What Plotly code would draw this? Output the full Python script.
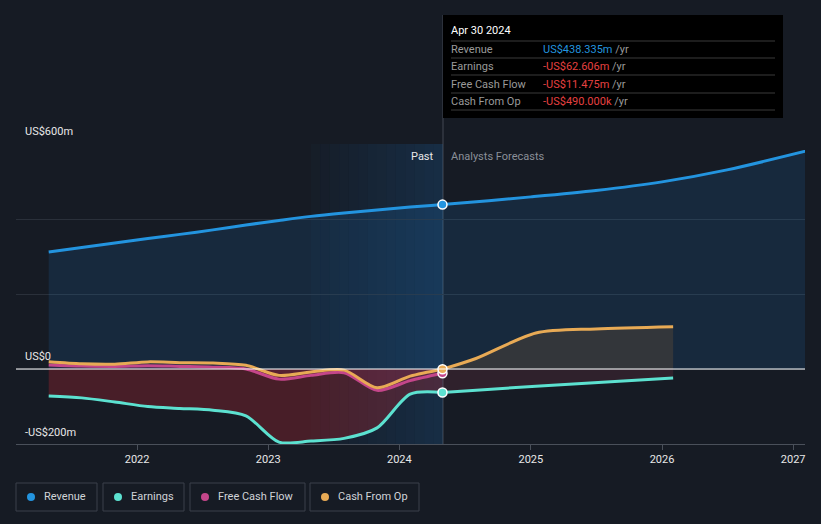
import plotly.graph_objects as go

# ---------------- data ----------------
past_dates = ["2021-04-30", "2021-07-31", "2021-10-31", "2022-01-31", "2022-04-30",
              "2022-07-31", "2022-10-31", "2023-01-31", "2023-04-30", "2023-07-31",
              "2023-10-31", "2024-01-31", "2024-04-30"]
revenue_past = [312, 324, 336, 348, 359, 371, 384, 396, 407, 416, 424, 432, 438.335]
earnings_past = [-72, -77, -88, -100, -105, -110, -125, -195, -192, -185, -157, -67, -62.606]
fcf_past = [11, 8, 7, 9, 7, 5, 0, -27, -17, -10, -57, -31, -11.475]
cfo_past = [19.5, 14, 13, 19, 17, 16, 10, -17, -8, -3, -50, -19, -0.49]

rev_fc_dates = ["2024-04-30", "2025-01-01", "2025-07-01", "2026-01-01", "2026-07-01", "2027-03-15"]
revenue_fc = [438.335, 459, 476, 499, 531, 590]
earn_fc_dates = ["2024-04-30", "2025-01-15", "2026-02-01"]
earnings_fc = [-62.606, -46, -24]
cfo_fc_dates = ["2024-04-30", "2024-08-01", "2025-01-15", "2025-07-01", "2026-02-01"]
cfo_fc = [-0.49, 28, 96, 107, 113]

now_date = "2024-04-30"
x_ticks = ["2022-01-01", "2023-01-01", "2024-01-01", "2025-01-01", "2026-01-01", "2027-01-01"]
x_tick_labels = ["2022", "2023", "2024", "2025", "2026", "2027"]
y_labels = ["US$600m", "US$0", "-US$200m"]

tooltip_title = "Apr 30 2024"
tooltip_rows = ["Revenue", "Earnings", "Free Cash Flow", "Cash From Op"]
tooltip_vals = ["US$438.335m", "-US$62.606m", "-US$11.475m", "-US$490.000k"]
legend_names = ["Revenue", "Earnings", "Free Cash Flow", "Cash From Op"]

# ---------------- style ----------------
BG = "#161b24"
C_REV = "#2394df"
C_EARN = "#5ce1d0"
C_FCF = "#c4468a"
C_CFO = "#e8aa55"
C_NEG = "#e64141"
FONT = "Roboto"

# plot area in pixels
L, R, T, B = 16, 805, 144, 444
W, H = 821, 524


def px(x):
    return (x - L) / (R - L)


def py(y):
    return (B - y) / (B - T)


fig = go.Figure()

spline = dict(shape="spline", smoothing=0.8)

# fills
fig.add_trace(go.Scatter(x=past_dates + rev_fc_dates[1:], y=revenue_past + revenue_fc[1:],
                         mode="lines", line=dict(width=0, **spline), fill="tozeroy",
                         fillcolor="rgba(33,150,243,0.12)", hoverinfo="skip"))
fig.add_trace(go.Scatter(x=past_dates, y=earnings_past, mode="lines",
                         line=dict(width=0, **spline), fill="tozeroy",
                         fillcolor="rgba(190,40,50,0.30)", hoverinfo="skip"))
fig.add_trace(go.Scatter(x=past_dates, y=fcf_past, mode="lines",
                         line=dict(width=0, **spline), fill="tozeroy",
                         fillcolor="rgba(200,60,120,0.12)", hoverinfo="skip"))
fig.add_trace(go.Scatter(x=earn_fc_dates, y=earnings_fc, mode="lines",
                         line=dict(width=0, **spline), fill="tozeroy",
                         fillcolor="rgba(150,60,80,0.20)", hoverinfo="skip"))
fig.add_trace(go.Scatter(x=cfo_fc_dates, y=cfo_fc, mode="lines",
                         line=dict(width=0, **spline), fill="tozeroy",
                         fillcolor="rgba(111,85,54,0.32)", hoverinfo="skip"))

# lines
fig.add_trace(go.Scatter(x=past_dates + rev_fc_dates[1:], y=revenue_past + revenue_fc[1:],
                         mode="lines", line=dict(color=C_REV, width=3, **spline)))
fig.add_trace(go.Scatter(x=past_dates, y=earnings_past, mode="lines",
                         line=dict(color=C_EARN, width=3, **spline)))
fig.add_trace(go.Scatter(x=earn_fc_dates, y=earnings_fc, mode="lines",
                         line=dict(color=C_EARN, width=3, **spline)))
fig.add_trace(go.Scatter(x=past_dates, y=fcf_past, mode="lines",
                         line=dict(color=C_FCF, width=3, **spline)))
fig.add_trace(go.Scatter(x=past_dates, y=cfo_past, mode="lines",
                         line=dict(color=C_CFO, width=3, **spline)))
fig.add_trace(go.Scatter(x=cfo_fc_dates, y=cfo_fc, mode="lines",
                         line=dict(color=C_CFO, width=3, **spline)))

# markers at "now"
for vals, col in [(revenue_past, C_REV), (earnings_past, C_EARN), (fcf_past, C_FCF), (cfo_past, C_CFO)]:
    fig.add_trace(go.Scatter(x=[now_date], y=[vals[-1]], mode="markers",
                             marker=dict(size=9, color=col, line=dict(color="white", width=1.5))))

shapes = []
# past band gradient
n = 14
bx0, bx1 = px(311), px(443)
for i in range(n):
    a = 0.03 + 0.17 * (i / (n - 1))
    shapes.append(dict(type="rect", xref="paper", yref="paper",
                       x0=bx0 + (bx1 - bx0) * i / n, x1=bx0 + (bx1 - bx0) * (i + 1) / n,
                       y0=0, y1=1, line=dict(width=0),
                       fillcolor=f"rgba(30,120,200,{a:.3f})", layer="below"))
# zero line
shapes.append(dict(type="line", xref="paper", yref="y", x0=0, x1=1, y0=0, y1=0,
                   line=dict(color="white", width=1.2), layer="above"))
# now vertical line
shapes.append(dict(type="line", xref="paper", yref="paper", x0=px(443), x1=px(443),
                   y0=0, y1=py(15), line=dict(color="rgba(120,130,145,0.45)", width=1), layer="below"))
# tooltip box
shapes.append(dict(type="rect", xref="paper", yref="paper", x0=px(443), x1=px(783),
                   y0=py(118), y1=py(15), fillcolor="#000000", line=dict(width=0), layer="above"))
for yy in [41, 58, 75, 93, 110]:
    shapes.append(dict(type="line", xref="paper", yref="paper", x0=px(451), x1=px(775),
                       y0=py(yy), y1=py(yy), line=dict(color="#3a3a3a", width=1), layer="above"))

annotations = []
annotations.append(dict(xref="paper", yref="paper", x=px(449), y=py(31), text=tooltip_title,
                        showarrow=False, xanchor="left", yanchor="middle",
                        font=dict(family=FONT, size=11, color="white")))
row_y = [49, 66, 84, 101]
for i, (lab, val) in enumerate(zip(tooltip_rows, tooltip_vals)):
    col = C_REV if not val.startswith("-") else C_NEG
    annotations.append(dict(xref="paper", yref="paper", x=px(449), y=py(row_y[i]), text=lab,
                            showarrow=False, xanchor="left", yanchor="middle",
                            font=dict(family=FONT, size=11, color="#9a9a9a")))
    annotations.append(dict(xref="paper", yref="paper", x=px(541), y=py(row_y[i]),
                            text=f"<span style='color:{col}'>{val}</span> /yr",
                            showarrow=False, xanchor="left", yanchor="middle",
                            font=dict(family=FONT, size=11, color="#9a9a9a")))

# past / forecast labels
annotations.append(dict(xref="paper", yref="paper", x=px(436), y=py(156), text="Past",
                        showarrow=False, xanchor="right", yanchor="middle",
                        font=dict(family=FONT, size=11, color="#e8e8e8")))
annotations.append(dict(xref="paper", yref="paper", x=px(449), y=py(156), text="Analysts Forecasts",
                        showarrow=False, xanchor="left", yanchor="middle",
                        font=dict(family=FONT, size=11, color="#8a8f98")))

# y labels
for lab, yy in zip(y_labels, [131, 356, 432]):
    annotations.append(dict(xref="paper", yref="paper", x=px(23), y=py(yy), text=lab,
                            showarrow=False, xanchor="left", yanchor="middle",
                            font=dict(family=FONT, size=11, color="#e8e8e8")))

# custom legend
leg_boxes = [(16, 97), (103, 184), (190, 305), (310, 419)]
leg_cols = [C_REV, C_EARN, C_FCF, C_CFO]
for (x0, x1), name, col in zip(leg_boxes, legend_names, leg_cols):
    shapes.append(dict(type="rect", xref="paper", yref="paper", x0=px(x0), x1=px(x1),
                       y0=py(511), y1=py(483), line=dict(color="#3a404b", width=1),
                       fillcolor="rgba(0,0,0,0)", layer="above"))
    shapes.append(dict(type="circle", xref="paper", yref="paper", xsizemode="pixel", ysizemode="pixel",
                       xanchor=px(x0 + 15), yanchor=py(497), x0=-4, x1=4, y0=-4, y1=4,
                       fillcolor=col, line=dict(width=0), layer="above"))
    annotations.append(dict(xref="paper", yref="paper", x=px(x0 + 26), y=py(496), text=name,
                            showarrow=False, xanchor="left", yanchor="middle",
                            font=dict(family=FONT, size=11, color="#d0d3d8")))

fig.update_layout(
    width=W, height=H,
    margin=dict(l=L, r=W - R, t=T, b=H - B),
    paper_bgcolor=BG, plot_bgcolor=BG,
    showlegend=False,
    shapes=shapes, annotations=annotations,
    xaxis=dict(type="date", range=["2021-01-29", "2027-02-03"], tickvals=x_ticks,
               ticktext=x_tick_labels, showgrid=False, zeroline=False,
               showline=True, linecolor="#4a505a", linewidth=1,
               ticks="outside", ticklen=5, tickcolor="#4a505a", fixedrange=True,
               tickfont=dict(family=FONT, size=11, color="#e8e8e8")),
    yaxis=dict(range=[-200, 600], tickvals=[0, 200, 400, 600], showticklabels=False,
               showgrid=True, gridcolor="#2a303a", gridwidth=1, zeroline=False,
               fixedrange=True),
    hovermode=False,
)

fig.write_html("out.html", config={"displayModeBar": False, "staticPlot": True},
               post_script="document.body.style.margin='0';document.body.style.background='%s';"
                           "document.body.style.overflow='hidden';" % BG)
